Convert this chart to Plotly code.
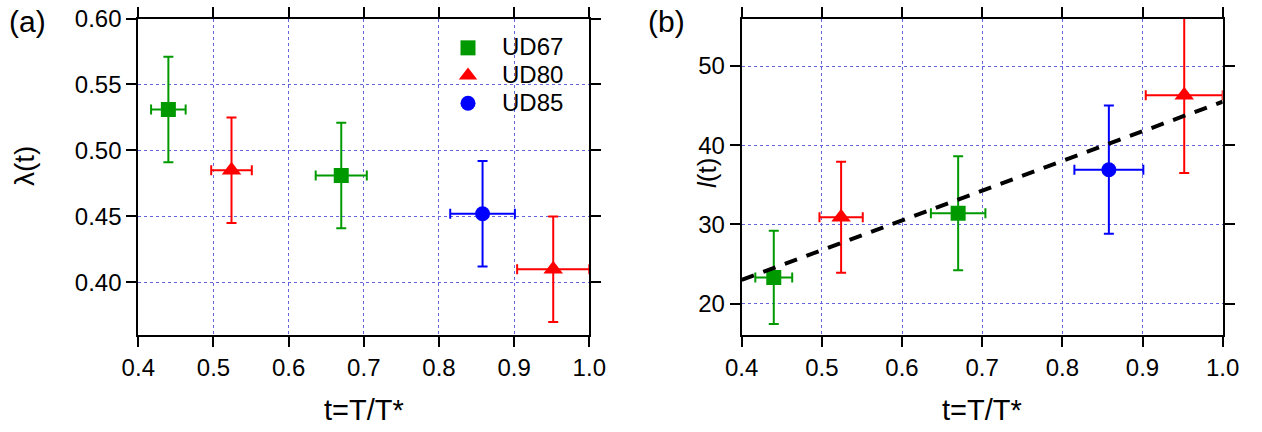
import plotly.graph_objects as go

# ---------------- data ----------------
series_names = ["UD67", "UD80", "UD85"]
series_colors = ["#009a00", "#ff0000", "#0000ff"]
series_symbols = ["square", "triangle-up", "circle"]
series_sizes = [15, 17, 15]

# panel (a): lambda(t)
t_ud67 = [0.440, 0.670]
t_ud67_err = [0.023, 0.034]
t_ud80 = [0.524, 0.952]
t_ud80_err = [0.027, 0.048]
t_ud85 = [0.858]
t_ud85_err = [0.043]

lam_ud67 = [0.531, 0.481]
lam_ud67_err = [0.040, 0.040]
lam_ud80 = [0.485, 0.410]
lam_ud80_err = [0.040, 0.040]
lam_ud85 = [0.452]
lam_ud85_err = [0.040]

# panel (b): l(t)
l_ud67 = [23.3, 31.4]
l_ud67_err = [5.9, 7.2]
l_ud80 = [30.9, 46.3]
l_ud80_err = [7.0, 9.8]
l_ud85 = [36.9]
l_ud85_err = [8.1]

fit_t = [0.4, 1.0]
fit_l = [23.0, 45.5]

x_ticks = [0.4, 0.5, 0.6, 0.7, 0.8, 0.9, 1.0]
lam_ticks = [0.40, 0.45, 0.50, 0.55, 0.60]
l_ticks = [20, 30, 40, 50]

t_data = [t_ud67, t_ud80, t_ud85]
t_err = [t_ud67_err, t_ud80_err, t_ud85_err]
lam_data = [lam_ud67, lam_ud80, lam_ud85]
lam_err = [lam_ud67_err, lam_ud80_err, lam_ud85_err]
l_data = [l_ud67, l_ud80, l_ud85]
l_err = [l_ud67_err, l_ud80_err, l_ud85_err]

FONT = "Arial, Liberation Sans, sans-serif"
W, H = 1262, 432

fig = go.Figure()

for i, name in enumerate(series_names):
    c = series_colors[i]
    for (ys, yerr, xa, ya) in [(lam_data[i], lam_err[i], "x", "y"),
                               (l_data[i], l_err[i], "x2", "y2")]:
        fig.add_trace(go.Scatter(
            x=t_data[i], y=ys, xaxis=xa, yaxis=ya, mode="markers",
            marker=dict(symbol=series_symbols[i], size=series_sizes[i], color=c,
                        line=dict(width=0)),
            error_x=dict(type="data", array=t_err[i], color=c, thickness=2, width=5),
            error_y=dict(type="data", array=yerr, color=c, thickness=2, width=5),
            showlegend=False, name=name))

# dashed fit line in panel (b)
fig.add_trace(go.Scatter(x=fit_t, y=fit_l, xaxis="x2", yaxis="y2", mode="lines",
                         line=dict(color="black", width=4, dash="13px,10px"),
                         showlegend=False))

# legend-only entries
for i, name in enumerate(series_names):
    fig.add_trace(go.Scatter(
        x=[None], y=[None], mode="markers",
        name=f"<span style='font-size:24px'>{name}</span>",
        marker=dict(symbol=series_symbols[i], size=series_sizes[i], color=series_colors[i],
                    line=dict(width=0))))

grid_col = "rgb(100,100,220)"
axis_common = dict(showline=True, linecolor="black", linewidth=2, mirror="ticks",
                   ticks="outside", ticklen=10, tickwidth=2, tickcolor="black",
                   showgrid=True, gridcolor=grid_col, gridwidth=1, griddash="dot",
                   zeroline=False, automargin=False,
                   tickfont=dict(family=FONT, size=24, color="black"))

xa_dom = [138.3 / W, 589.3 / W]
xb_dom = [741.7 / W, 1222.7 / W]
y_dom = [1 - 335.2 / H, 1 - 18.5 / H]

fig.update_layout(
    width=W, height=H, margin=dict(l=0, r=0, t=0, b=0),
    paper_bgcolor="white", plot_bgcolor="white",
    font=dict(family=FONT, color="black"),
    xaxis=dict(domain=xa_dom, range=[0.4, 1.0], tickvals=x_ticks,
               ticktext=[f"{v:.1f}" for v in x_ticks], anchor="y", **axis_common),
    yaxis=dict(domain=y_dom, range=[0.36, 0.60], tickvals=lam_ticks,
               ticktext=[f"{v:.2f}" for v in lam_ticks], anchor="x", **axis_common),
    xaxis2=dict(domain=xb_dom, range=[0.4, 1.0], tickvals=x_ticks,
                ticktext=[f"{v:.1f}" for v in x_ticks], anchor="y2", **axis_common),
    yaxis2=dict(domain=y_dom, range=[16, 56], tickvals=l_ticks,
                ticktext=[str(v) for v in l_ticks], anchor="x2", **axis_common),
    legend=dict(x=434 / W, y=1 - 29 / H, xanchor="left", yanchor="top",
                bgcolor="rgba(0,0,0,0)", borderwidth=0,
                font=dict(family=FONT, size=19, color="black"),
                itemwidth=58, tracegroupgap=0),
    showlegend=True,
)

ann = [
    dict(text="(a)", x=27 / W, y=1 - 21 / H, size=30),
    dict(text="(b)", x=666 / W, y=1 - 21 / H, size=30),
    dict(text="t=T/T*", x=(138.3 + 589.3) / 2 / W, y=1 - 410 / H, size=29),
    dict(text="t=T/T*", x=(741.7 + 1222.7) / 2 / W, y=1 - 410 / H, size=29),
    dict(text="λ(t)", x=24 / W, y=1 - 166 / H, angle=-90, size=28),
    dict(text="<i>l</i>(t)", x=707 / W, y=1 - 173 / H, angle=-90, size=26),
]
for a in ann:
    fig.add_annotation(text=a["text"], x=a["x"], y=a["y"], xref="paper", yref="paper",
                       xanchor="center", yanchor="middle", showarrow=False,
                       textangle=a.get("angle", 0),
                       font=dict(family=FONT, size=a.get("size", 27), color="black"))

fig.write_html("out.html")
